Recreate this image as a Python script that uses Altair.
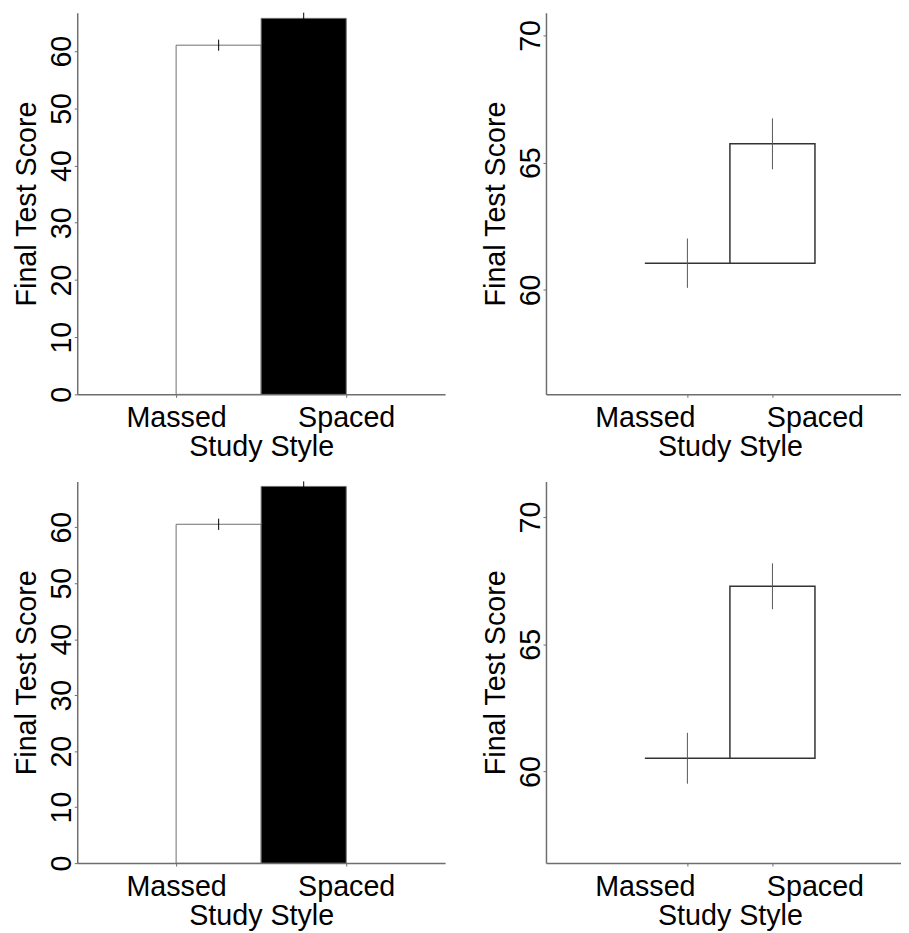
import altair as alt
import pandas as pd

# ---- data ----
categories = ["Massed", "Spaced"]
top_means = [61.05, 65.74]
top_se = [0.97, 1.00]
bottom_means = [60.52, 67.28]
bottom_se = [1.00, 0.90]
y_title = "Final Test Score"
x_title = "Study Style"

FONT = "Liberation Sans"
FS = 29
W_LEFT = 372
W_RIGHT = 359
H = 386
PX_PER_UNIT = 86.0
X_LEFT = 1.5 - (W_LEFT / 2) / PX_PER_UNIT


def frame(means, se):
    idx = [1, 2]
    return pd.DataFrame({
        "cat": categories,
        "idx": idx,
        "mean": means,
        "lo": [m - s for m, s in zip(means, se)],
        "hi": [m + s for m, s in zip(means, se)],
        "x0": [i - 0.5 for i in idx],
        "x1": [i + 0.5 for i in idx],
        "base": [means[0]] * len(means),
        "zero": [0] * len(means),
    })


label_expr = (
    f"datum.value < 0.75 ? '{categories[0]}' : "
    f"(datum.value > 2.25 ? '{categories[1]}' : '')"
)

common = dict(
    domainColor="#6e6e6e", domainWidth=1.5, tickColor="#6e6e6e", tickWidth=1, tickSize=3,
    labelFont=FONT, labelFontSize=FS, labelColor="black",
    titleFont=FONT, titleFontSize=FS, titleColor="black", titleFontWeight="normal",
    grid=False, labelOverlap=False, labelFlush=False,
)


def y_axis(values):
    return alt.Axis(
        values=values, title=y_title, labelAngle=270, labelAlign="center",
        labelBaseline="alphabetic", labelPadding=4,
        titleAngle=270, titleAlign="center", titleBaseline="alphabetic",
        titleX=-42, titleY=H / 2, **common,
    )


def x_axis(values, tick_opacity=None):
    extra = {}
    if tick_opacity is not None:
        extra["tickOpacity"] = tick_opacity
    return alt.Axis(
        values=values, labelExpr=label_expr, title=x_title,
        labelBaseline="alphabetic", labelAlign="center", labelPadding=30,
        titleBaseline="alphabetic", titleAlign="center", titleX=186, titleY=62,
        **common, **extra,
    )


def left_panel(means, se):
    df = frame(means, se)
    ymax = float(df["hi"].max())
    xs = alt.Scale(domain=[X_LEFT, X_LEFT + W_LEFT / PX_PER_UNIT], nice=False, zero=False)
    ys = alt.Scale(domain=[0, ymax], nice=False, zero=False)
    base = alt.Chart(df)
    bars = base.mark_rect(stroke="#6e6e6e", strokeWidth=1).encode(
        x=alt.X("x0:Q", scale=xs, axis=x_axis([0.5, 2.5])),
        x2="x1:Q",
        y=alt.Y("mean:Q", scale=ys, axis=y_axis(list(range(0, 70, 10)))),
        y2="zero:Q",
        fill=alt.Fill("cat:N", scale=alt.Scale(domain=categories, range=["white", "black"]), legend=None),
    )
    err = base.mark_rule(color="black", strokeWidth=1).encode(
        x=alt.X("idx:Q", scale=xs), y=alt.Y("lo:Q", scale=ys), y2="hi:Q"
    )
    return alt.layer(bars, err).properties(width=W_LEFT, height=H)


def right_panel(means, se):
    df = frame(means, se)
    mid = sum(means) / len(means)
    xs = alt.Scale(domain=[X_LEFT, X_LEFT + W_RIGHT / PX_PER_UNIT], nice=False, zero=False)
    ys = alt.Scale(domain=[mid - 7.5, mid + 7.5], nice=False, zero=False)
    base = alt.Chart(df)
    tick_op = {"condition": {"test": "datum.value == 1 || datum.value == 2", "value": 1}, "value": 0}
    bars = base.mark_rect(stroke="#333333", strokeWidth=1.5, fill="white").encode(
        x=alt.X("x0:Q", scale=xs, axis=x_axis([0.5, 1, 2, 2.5], tick_op)),
        x2="x1:Q",
        y=alt.Y("mean:Q", scale=ys, axis=y_axis([60, 65, 70])),
        y2="base:Q",
    )
    err = base.mark_rule(color="#555555", strokeWidth=1).encode(
        x=alt.X("idx:Q", scale=xs), y=alt.Y("lo:Q", scale=ys), y2="hi:Q"
    )
    return alt.layer(bars, err).properties(width=W_RIGHT, height=H)


top = alt.hconcat(left_panel(top_means, top_se), right_panel(top_means, top_se), spacing=37)
bottom = alt.hconcat(left_panel(bottom_means, bottom_se), right_panel(bottom_means, bottom_se), spacing=37)

chart = alt.vconcat(top, bottom, spacing=19).properties(
    padding={"left": 5, "top": -1.5, "right": 0, "bottom": 0},
    background="white",
).configure_view(strokeOpacity=0, strokeWidth=0)

chart.save("out.html", embed_options={"renderer": "svg", "actions": False})
